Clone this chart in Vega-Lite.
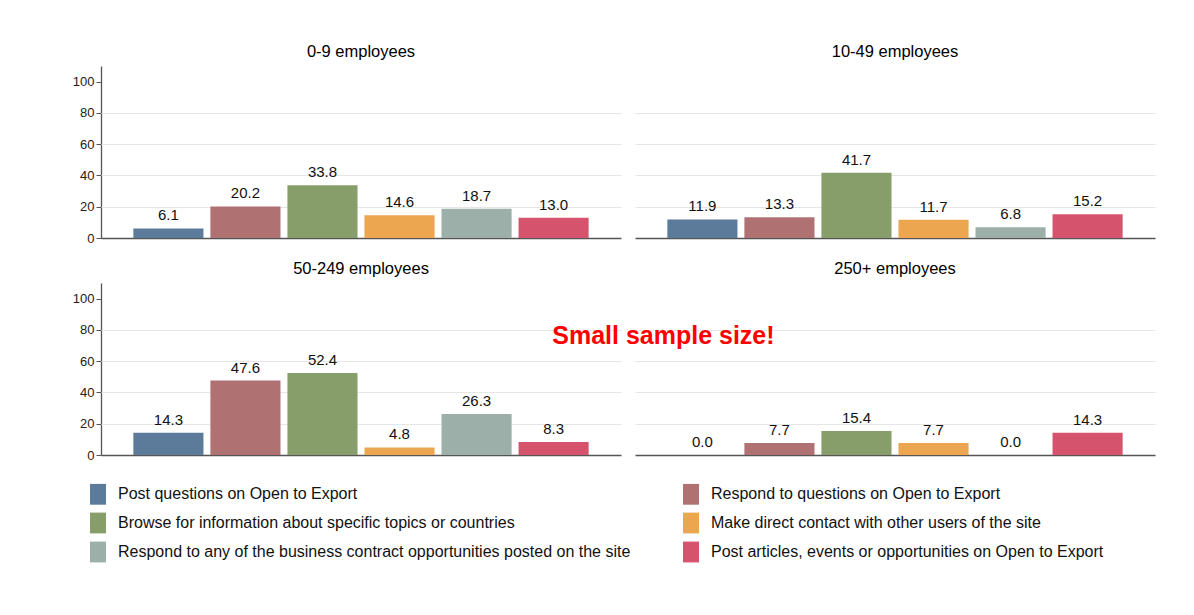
{
  "$schema": "https://vega.github.io/schema/vega-lite/v6.json",
  "background": "white",
  "padding": {"left": 72, "top": 43, "right": 20, "bottom": 10},
  "bounds": "flush",
  "data": {"values": [
    {"size": "0-9 employees", "activity": "Post questions on Open to Export", "pct": 6.1},
    {"size": "0-9 employees", "activity": "Respond to questions on Open to Export", "pct": 20.2},
    {"size": "0-9 employees", "activity": "Browse for information about specific topics or countries", "pct": 33.8},
    {"size": "0-9 employees", "activity": "Make direct contact with other users of the site", "pct": 14.6},
    {"size": "0-9 employees", "activity": "Respond to any of the business contract opportunities posted on the site", "pct": 18.7},
    {"size": "0-9 employees", "activity": "Post articles, events or opportunities on Open to Export", "pct": 13.0},
    {"size": "10-49 employees", "activity": "Post questions on Open to Export", "pct": 11.9},
    {"size": "10-49 employees", "activity": "Respond to questions on Open to Export", "pct": 13.3},
    {"size": "10-49 employees", "activity": "Browse for information about specific topics or countries", "pct": 41.7},
    {"size": "10-49 employees", "activity": "Make direct contact with other users of the site", "pct": 11.7},
    {"size": "10-49 employees", "activity": "Respond to any of the business contract opportunities posted on the site", "pct": 6.8},
    {"size": "10-49 employees", "activity": "Post articles, events or opportunities on Open to Export", "pct": 15.2},
    {"size": "50-249 employees", "activity": "Post questions on Open to Export", "pct": 14.3},
    {"size": "50-249 employees", "activity": "Respond to questions on Open to Export", "pct": 47.6},
    {"size": "50-249 employees", "activity": "Browse for information about specific topics or countries", "pct": 52.4},
    {"size": "50-249 employees", "activity": "Make direct contact with other users of the site", "pct": 4.8},
    {"size": "50-249 employees", "activity": "Respond to any of the business contract opportunities posted on the site", "pct": 26.3},
    {"size": "50-249 employees", "activity": "Post articles, events or opportunities on Open to Export", "pct": 8.3},
    {"size": "250+ employees", "activity": "Post questions on Open to Export", "pct": 0.0, "note": "Small sample size!"},
    {"size": "250+ employees", "activity": "Respond to questions on Open to Export", "pct": 7.7},
    {"size": "250+ employees", "activity": "Browse for information about specific topics or countries", "pct": 15.4},
    {"size": "250+ employees", "activity": "Make direct contact with other users of the site", "pct": 7.7},
    {"size": "250+ employees", "activity": "Respond to any of the business contract opportunities posted on the site", "pct": 0.0},
    {"size": "250+ employees", "activity": "Post articles, events or opportunities on Open to Export", "pct": 14.3}
  ]},
  "facet": {
    "field": "size",
    "type": "nominal",
    "sort": ["0-9 employees", "10-49 employees", "50-249 employees", "250+ employees"],
    "header": {"title": null, "labelFontSize": 16.5, "labelFont": "Liberation Sans", "labelColor": "#000000", "labelPadding": 6}
  },
  "columns": 2,
  "spacing": {"column": 14, "row": 45},
  "spec": {
    "width": 520,
    "height": 172,
    "encoding": {
      "x": {
        "field": "activity",
        "type": "nominal",
        "sort": null,
        "axis": null,
        "scale": {"paddingInner": 0.09, "paddingOuter": 0.42}
      },
      "y": {
        "field": "pct",
        "type": "quantitative",
        "scale": {"domain": [0, 110], "nice": false},
        "axis": {
          "title": null,
          "values": [0, 20, 40, 60, 80, 100],
          "grid": true,
          "gridColor": {"condition": [{"test": "datum.value === 0", "value": "#555555"}, {"test": "datum.value === 100", "value": "rgba(0,0,0,0)"}], "value": "#e6e6e6"},
          "gridWidth": {"condition": {"test": "datum.value === 0", "value": 1.5}, "value": 1.2},
          "domainColor": "#555555",
          "domainWidth": 1.3,
          "tickColor": "#555555",
          "tickSize": 5,
          "labelPadding": 2,
          "labelFont": "Liberation Sans",
          "labelFontSize": 13,
          "labelColor": "#222222"
        }
      }
    },
    "layer": [
      {
        "mark": {"type": "bar"},
        "encoding": {
          "color": {
            "field": "activity",
            "type": "nominal",
            "sort": null,
            "scale": {
              "domain": [
                "Post questions on Open to Export",
                "Browse for information about specific topics or countries",
                "Respond to any of the business contract opportunities posted on the site",
                "Respond to questions on Open to Export",
                "Make direct contact with other users of the site",
                "Post articles, events or opportunities on Open to Export"
              ],
              "range": ["#5c7b9a", "#889e6a", "#9cb0a9", "#b07173", "#eba64f", "#d6536e"]
            },
            "legend": {
              "title": null,
              "orient": "none",
              "legendX": -11,
              "legendY": 420,
              "columns": 2,
              "columnPadding": 52,
              "rowPadding": 7,
              "symbolType": "M-1,-1.3H1V1.3H-1Z",
              "symbolSize": 256,
              "symbolStrokeWidth": 0,
              "labelFont": "Liberation Sans",
              "labelFontSize": 16,
              "labelColor": "#111111",
              "labelOffset": 12,
              "labelLimit": 700
            }
          }
        }
      },
      {
        "mark": {"type": "text", "baseline": "alphabetic", "dy": -8, "font": "Liberation Sans", "fontSize": 15, "color": "#111111"},
        "encoding": {
          "text": {"field": "pct", "type": "quantitative", "format": ".1f"}
        }
      },
      {
        "transform": [{"filter": "datum.note != null"}],
        "mark": {"type": "text", "font": "Liberation Sans", "fontWeight": "bold", "fontSize": 25, "color": "#ff0000", "dx": -39, "baseline": "middle"},
        "encoding": {
          "y": {"datum": 76},
          "text": {"field": "note", "type": "nominal"}
        }
      }
    ]
  },
  "config": {
    "view": {"stroke": null}
  }
}
